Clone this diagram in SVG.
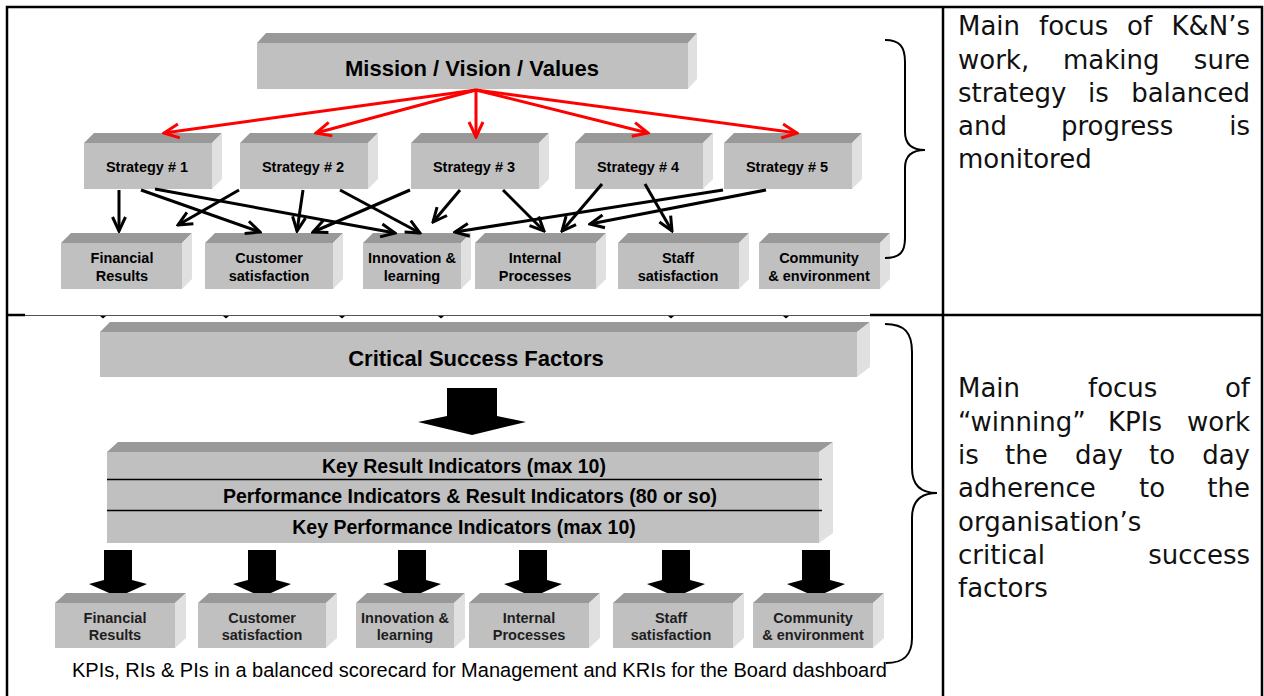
<svg xmlns="http://www.w3.org/2000/svg" width="1264" height="696" viewBox="0 0 1264 696">
<style>
.f{fill:#c0c0c0}.t{fill:#999}.s{fill:#e0e0e0}
.bx{font-family:"Liberation Sans",Arial,sans-serif;font-weight:bold;fill:#000;text-anchor:middle}
.bl{font-family:"Liberation Sans",Arial,sans-serif;font-weight:bold;fill:#1e1e1e;text-anchor:middle;font-size:14.5px}
.rt{font-family:"DejaVu Sans",Verdana,sans-serif;font-size:26px;fill:#111}
.red{stroke:#f00;stroke-width:3;fill:none;marker-end:url(#mr)}
.blk{stroke:#000;stroke-width:3;fill:none;marker-end:url(#mb)}
.grid{stroke:#000;stroke-width:2.5;fill:none}
.brace{stroke:#000;stroke-width:2;fill:none}
</style>
<defs>
<marker id="mr" viewBox="0 0 18 18" refX="16" refY="9" markerWidth="18" markerHeight="18" markerUnits="userSpaceOnUse" orient="auto"><path d="M1,2 L16,9 L1,16" fill="none" stroke="#f00" stroke-width="3"/></marker>
<marker id="mb" viewBox="0 0 18 18" refX="16" refY="9" markerWidth="18" markerHeight="18" markerUnits="userSpaceOnUse" orient="auto"><path d="M2,2.5 L16,9 L2,15.5" fill="none" stroke="#000" stroke-width="3"/></marker>
</defs>
<rect width="1264" height="696" fill="#fff"/>
<g id="table">
<path class="grid" d="M7,696 V7 H1262 V696 M943,7 V696 M7,315 H25 M870,315 H1262"/>
<line x1="25" y1="315.5" x2="870" y2="315.5" stroke="#555" stroke-width="1"/>
<path fill="#000" d="M100,316 h6 l-3,2.5z M223,316 h6 l-3,2.5z M339,316 h6 l-3,2.5z M438,316 h6 l-3,2.5z M668,316 h6 l-3,2.5z M783,316 h6 l-3,2.5z"/>
</g>
<g id="mission">
<polygon class="t" points="257,43 266,33 697,33 688,43"/><polygon class="s" points="688,43 697,33 697,79 688,89"/><rect class="f" x="257" y="43" width="431" height="46"/>
<text class="bx" x="472" y="76" font-size="22">Mission / Vision / Values</text>
</g>
<g id="s1"><polygon class="t" points="84,143 94,133 222,133 212,143"/><polygon class="s" points="212,143 222,133 222,179 212,189"/><rect class="f" x="84" y="143" width="128" height="46"/><text class="bx" x="147" y="172" font-size="14.5">Strategy # 1</text></g>
<g id="s2"><polygon class="t" points="240,143 250,133 378,133 368,143"/><polygon class="s" points="368,143 378,133 378,179 368,189"/><rect class="f" x="240" y="143" width="128" height="46"/><text class="bx" x="303" y="172" font-size="14.5">Strategy # 2</text></g>
<g id="s3"><polygon class="t" points="411,143 421,133 549,133 539,143"/><polygon class="s" points="539,143 549,133 549,179 539,189"/><rect class="f" x="411" y="143" width="128" height="46"/><text class="bx" x="474" y="172" font-size="14.5">Strategy # 3</text></g>
<g id="s4"><polygon class="t" points="575,143 585,133 713,133 703,143"/><polygon class="s" points="703,143 713,133 713,179 703,189"/><rect class="f" x="575" y="143" width="128" height="46"/><text class="bx" x="638" y="172" font-size="14.5">Strategy # 4</text></g>
<g id="s5"><polygon class="t" points="724,143 734,133 862,133 852,143"/><polygon class="s" points="852,143 862,133 862,179 852,189"/><rect class="f" x="724" y="143" width="128" height="46"/><text class="bx" x="787" y="172" font-size="14.5">Strategy # 5</text></g>
<g id="p1"><polygon class="t" points="61,243 71,233 192,233 182,243"/><polygon class="s" points="182,243 192,233 192,279 182,289"/><rect class="f" x="61" y="243" width="121" height="46"/><text class="bx" x="122" y="263" font-size="14.5">Financial</text><text class="bx" x="122" y="281" font-size="14.5">Results</text></g>
<g id="p2"><polygon class="t" points="205,243 215,233 343,233 333,243"/><polygon class="s" points="333,243 343,233 343,279 333,289"/><rect class="f" x="205" y="243" width="128" height="46"/><text class="bx" x="269" y="263" font-size="14.5">Customer</text><text class="bx" x="269" y="281" font-size="14.5">satisfaction</text></g>
<g id="p3"><polygon class="t" points="363,243 373,233 471,233 461,243"/><polygon class="s" points="461,243 471,233 471,279 461,289"/><rect class="f" x="363" y="243" width="98" height="46"/><text class="bx" x="412" y="263" font-size="14.5">Innovation &amp;</text><text class="bx" x="412" y="281" font-size="14.5">learning</text></g>
<g id="p4"><polygon class="t" points="475,243 485,233 606,233 596,243"/><polygon class="s" points="596,243 606,233 606,279 596,289"/><rect class="f" x="475" y="243" width="121" height="46"/><text class="bx" x="535" y="263" font-size="14.5">Internal</text><text class="bx" x="535" y="281" font-size="14.5">Processes</text></g>
<g id="p5"><polygon class="t" points="618,243 628,233 749,233 739,243"/><polygon class="s" points="739,243 749,233 749,279 739,289"/><rect class="f" x="618" y="243" width="121" height="46"/><text class="bx" x="678" y="263" font-size="14.5">Staff</text><text class="bx" x="678" y="281" font-size="14.5">satisfaction</text></g>
<g id="p6"><polygon class="t" points="759,243 769,233 890,233 880,243"/><polygon class="s" points="880,243 890,233 890,279 880,289"/><rect class="f" x="759" y="243" width="121" height="46"/><text class="bx" x="819" y="263" font-size="14.5">Community</text><text class="bx" x="819" y="281" font-size="14.5">&amp; environment</text></g>
<g id="connectors">
<line class="red" x1="476" y1="90" x2="164" y2="133"/>
<line class="red" x1="476" y1="90" x2="316" y2="133"/>
<line class="red" x1="476" y1="90" x2="476" y2="137"/>
<line class="red" x1="476" y1="90" x2="648" y2="133"/>
<line class="red" x1="476" y1="90" x2="797" y2="133"/>
<line class="blk" x1="119" y1="190" x2="119" y2="231"/>
<line class="blk" x1="141" y1="190" x2="260" y2="232"/>
<line class="blk" x1="155" y1="189" x2="395" y2="233"/>
<line class="blk" x1="239" y1="190" x2="178" y2="225"/>
<line class="blk" x1="303" y1="190" x2="297" y2="231"/>
<line class="blk" x1="340" y1="190" x2="420" y2="233"/>
<line class="blk" x1="410" y1="190" x2="313" y2="232"/>
<line class="blk" x1="460" y1="190" x2="433" y2="222"/>
<line class="blk" x1="503" y1="190" x2="544" y2="231"/>
<line class="blk" x1="602" y1="184" x2="562" y2="231"/>
<line class="blk" x1="645" y1="184" x2="672" y2="231"/>
<line class="blk" x1="723" y1="190" x2="455" y2="232"/>
<line class="blk" x1="766" y1="190" x2="590" y2="224"/>
<path fill="#000" d="M447,388 H497 V416 L526,422 L472,435 L418,422 L447,416 Z"/>
<path fill="#000" d="M104,550 H132 V580 L147,584 L118,597 L89,584 L104,580 Z"/>
<path fill="#000" d="M248,550 H276 V580 L291,584 L262,597 L233,584 L248,580 Z"/>
<path fill="#000" d="M398,550 H426 V580 L441,584 L412,597 L383,584 L398,580 Z"/>
<path fill="#000" d="M519,550 H547 V580 L562,584 L533,597 L504,584 L519,580 Z"/>
<path fill="#000" d="M662,550 H690 V580 L705,584 L676,597 L647,584 L662,580 Z"/>
<path fill="#000" d="M802,550 H830 V580 L845,584 L816,597 L787,584 L802,580 Z"/>
</g>
<g id="csf"><polygon class="t" points="100,332 110,322 870,322 857,332"/><polygon class="s" points="857,332 870,322 870,367 857,377"/><rect class="f" x="100" y="332" width="757" height="45"/><text class="bx" x="476" y="366" font-size="22">Critical Success Factors</text></g>
<g id="indicators"><polygon class="t" points="107,452 118,442 833,442 819,452"/><polygon class="s" points="819,452 833,442 833,533 819,543"/><rect class="f" x="107" y="452" width="712" height="91"/>
<path d="M107,479.5 H822 M107,510.5 H822" stroke="#000" stroke-width="1.3"/>
<text class="bx" x="464" y="473" font-size="19.5">Key Result Indicators (max 10)</text>
<text class="bx" x="470" y="503" font-size="19.5">Performance Indicators &amp; Result Indicators (80 or so)</text>
<text class="bx" x="464" y="534" font-size="19.5">Key Performance Indicators (max 10)</text></g>
<g id="q1"><polygon class="t" points="55,603 66,593 186,593 175,603"/><polygon class="s" points="175,603 186,593 186,638 175,648"/><rect class="f" x="55" y="603" width="120" height="45"/><text class="bl" x="115" y="623">Financial</text><text class="bl" x="115" y="640">Results</text></g>
<g id="q2"><polygon class="t" points="198,603 209,593 337,593 326,603"/><polygon class="s" points="326,603 337,593 337,638 326,648"/><rect class="f" x="198" y="603" width="128" height="45"/><text class="bl" x="262" y="623">Customer</text><text class="bl" x="262" y="640">satisfaction</text></g>
<g id="q3"><polygon class="t" points="356,603 367,593 465,593 454,603"/><polygon class="s" points="454,603 465,593 465,638 454,648"/><rect class="f" x="356" y="603" width="98" height="45"/><text class="bl" x="405" y="623">Innovation &amp;</text><text class="bl" x="405" y="640">learning</text></g>
<g id="q4"><polygon class="t" points="469,603 480,593 600,593 589,603"/><polygon class="s" points="589,603 600,593 600,638 589,648"/><rect class="f" x="469" y="603" width="120" height="45"/><text class="bl" x="529" y="623">Internal</text><text class="bl" x="529" y="640">Processes</text></g>
<g id="q5"><polygon class="t" points="613,603 624,593 744,593 733,603"/><polygon class="s" points="733,603 744,593 744,638 733,648"/><rect class="f" x="613" y="603" width="120" height="45"/><text class="bl" x="671" y="623">Staff</text><text class="bl" x="671" y="640">satisfaction</text></g>
<g id="q6"><polygon class="t" points="753,603 764,593 884,593 873,603"/><polygon class="s" points="873,603 884,593 884,638 873,648"/><rect class="f" x="753" y="603" width="120" height="45"/><text class="bl" x="813" y="623">Community</text><text class="bl" x="813" y="640">&amp; environment</text></g>
<g id="caption"><text x="72" y="677" font-family="Liberation Sans, Arial, sans-serif" font-size="20.5" fill="#000" textLength="815" lengthAdjust="spacingAndGlyphs">KPIs, RIs &amp; PIs in a balanced scorecard for Management and KRIs for the Board dashboard</text></g>
<g id="braces">
<path class="brace" d="M885,40 C900,40 905,47 905,62 L905,132 C905,144 911,150 925,150 C911,150 905,156 905,168 L905,238 C905,252 900,258 885,258"/>
<path class="brace" d="M885,324 C905,324 912,333 912,352 L912,468 C912,485 920,493 937,493 C920,493 912,501 912,518 L912,638 C912,655 904,663 886,663"/>
</g>
<g id="note-top" class="rt">
<text x="958" y="35">Main</text><text x="1039" y="35">focus</text><text x="1127" y="35">of</text><text x="1250" y="35" text-anchor="end">K&amp;N’s</text>
<text x="958" y="68.5">work,</text><text x="1063" y="68.5">making</text><text x="1250" y="68.5" text-anchor="end">sure</text>
<text x="958" y="102">strategy</text><text x="1088" y="102">is</text><text x="1250" y="102" text-anchor="end">balanced</text>
<text x="958" y="135">and</text><text x="1061" y="135">progress</text><text x="1250" y="135" text-anchor="end">is</text>
<text x="958" y="168">monitored</text>
</g>
<g id="note-bottom" class="rt">
<text x="958" y="397">Main</text><text x="1088" y="397">focus</text><text x="1250" y="397" text-anchor="end">of</text>
<text x="958" y="430.5">“winning”</text><text x="1108" y="430.5">KPIs</text><text x="1250" y="430.5" text-anchor="end">work</text>
<text x="958" y="464">is</text><text x="1005" y="464">the</text><text x="1075" y="464">day</text><text x="1149" y="464">to</text><text x="1250" y="464" text-anchor="end">day</text>
<text x="958" y="497">adherence</text><text x="1139" y="497">to</text><text x="1250" y="497" text-anchor="end">the</text>
<text x="958" y="530.5">organisation’s</text>
<text x="958" y="564">critical</text><text x="1250" y="564" text-anchor="end">success</text>
<text x="958" y="597">factors</text>
</g>
</svg>
